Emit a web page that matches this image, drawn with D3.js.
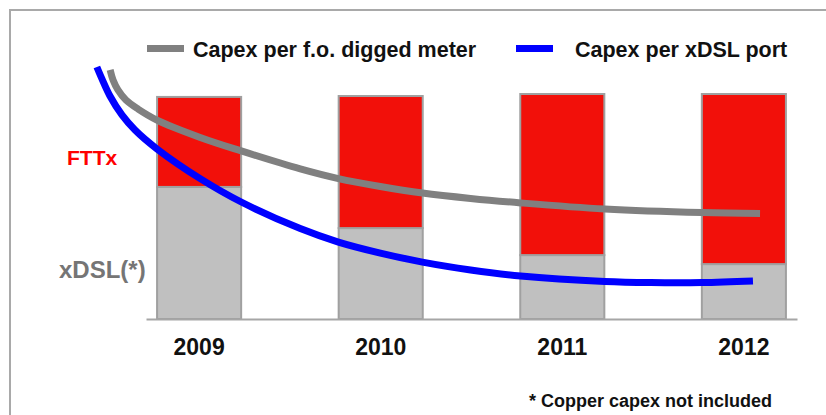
<!DOCTYPE html>
<html>
<head>
<meta charset="utf-8">
<script src="https://cdn.jsdelivr.net/npm/d3@7"></script>
<style>
  html, body { margin: 0; padding: 0; background: #fff; }
  svg { display: block; font-family: "Liberation Sans", Arial, sans-serif; }
</style>
</head>
<body>
<svg id="chart" width="826" height="415"></svg>
<script>
// Capex split per year (share of total, %)
const years = ["2009", "2010", "2011", "2012"];
const xdslShare = [58.7, 40.4, 28.4, 24.4];
const fttxShare = [40.0, 58.7, 71.6, 75.6];

// Trend curves (index on the same vertical scale), sampled along the year axis
const meterYears  = [2008.51, 2008.526, 2008.553, 2008.597, 2008.664, 2008.768, 2009.006, 2009.232, 2009.557, 2009.767, 2009.998, 2010.23, 2010.495, 2010.771, 2011.234, 2011.769, 2012.089];
const meterValues = [110.7, 106.2, 101.8, 97.3, 93.3, 88.4, 80.7, 74.7, 66.7, 62.4, 58.9, 56.0, 53.6, 51.6, 48.9, 47.3, 46.9];
const portYears   = [2008.437, 2008.465, 2008.509, 2008.575, 2008.647, 2008.768, 2009.006, 2009.232, 2009.557, 2009.767, 2009.998, 2010.23, 2010.495, 2010.771, 2011.234, 2011.488, 2011.769, 2012.05];
const portValues  = [112.0, 106.7, 99.1, 90.7, 84.0, 75.6, 62.4, 52.0, 40.2, 34.2, 29.3, 25.3, 21.8, 19.1, 16.7, 16.2, 16.2, 16.9];

const legendLabels = ["Capex per f.o. digged meter", "Capex per xDSL port"];
const footnote = "* Copper capex not included";

const svg = d3.select("#chart");

// frame around the slide area
svg.append("rect")
  .attr("x", 10).attr("y", 10)
  .attr("width", 830).attr("height", 420)
  .attr("fill", "none").attr("stroke", "#a9a9a9").attr("stroke-width", 2);

const x = d3.scaleBand()
  .domain(years)
  .range([146, 797])
  .paddingInner(0.537)
  .paddingOuter(0.061);

const y = d3.scaleLinear().domain([0, 100]).range([319, 94]);

// continuous year scale aligned with the band centres
const xYear = d3.scaleLinear()
  .domain([2009, 2012])
  .range([x("2009") + x.bandwidth() / 2, x("2012") + x.bandwidth() / 2]);

const rows = years.map((yr, i) => ({ year: yr, xdsl: xdslShare[i], fttx: fttxShare[i] }));
const stacked = d3.stack().keys(["xdsl", "fttx"])(rows);
const fills = { xdsl: "#c0c0c0", fttx: "#f2100a" };

svg.append("g")
  .selectAll("g")
  .data(stacked)
  .join("g")
  .attr("fill", d => fills[d.key])
  .selectAll("rect")
  .data(d => d)
  .join("rect")
  .attr("x", d => x(d.data.year))
  .attr("width", x.bandwidth())
  .attr("y", d => y(d[1]))
  .attr("height", d => y(d[0]) - y(d[1]))
  .attr("stroke", "#a0a0a0")
  .attr("stroke-width", 2);

// category axis
const axis = svg.append("g")
  .attr("transform", `translate(0,${y(0)})`)
  .call(d3.axisBottom(x).tickSize(0).tickSizeOuter(0).tickPadding(20));
axis.select(".domain").attr("stroke", "#a6a6a6").attr("stroke-width", 2);
axis.selectAll("text")
  .attr("font-family", "'Liberation Sans', Arial, sans-serif")
  .attr("font-size", 23)
  .attr("font-weight", "bold")
  .attr("fill", "#111");

// trend curves
const line = d3.line()
  .x(d => xYear(d[0]))
  .y(d => y(d[1]))
  .curve(d3.curveCatmullRom.alpha(0.5));

svg.append("path")
  .datum(d3.zip(meterYears, meterValues))
  .attr("d", line)
  .attr("fill", "none")
  .attr("stroke", "#808080")
  .attr("stroke-width", 7);

svg.append("path")
  .datum(d3.zip(portYears, portValues))
  .attr("d", line)
  .attr("fill", "none")
  .attr("stroke", "#0000ff")
  .attr("stroke-width", 7);

// legend
const legend = svg.append("g").attr("font-size", 21.5).attr("font-weight", "bold").attr("fill", "#111");
const legendItems = [
  { label: legendLabels[0], color: "#808080", x0: 147, tx: 193 },
  { label: legendLabels[1], color: "#0000ff", x0: 516, tx: 575 }
];
legendItems.forEach(it => {
  legend.append("line")
    .attr("x1", it.x0).attr("x2", it.x0 + 37)
    .attr("y1", 48.5).attr("y2", 48.5)
    .attr("stroke", it.color).attr("stroke-width", 7);
  legend.append("text").attr("x", it.tx).attr("y", 57).text(it.label);
});

// series labels
svg.append("text")
  .attr("x", 67).attr("y", 165)
  .attr("font-size", 21).attr("font-weight", "bold").attr("fill", "#ff0000")
  .text("FTTx");
svg.append("text")
  .attr("x", 59).attr("y", 278)
  .attr("font-size", 24).attr("font-weight", "bold").attr("fill", "#757575")
  .text("xDSL(*)");

// footnote
svg.append("text")
  .attr("x", 529).attr("y", 407)
  .attr("font-size", 18).attr("font-weight", "bold").attr("fill", "#111")
  .text(footnote);
</script>
</body>
</html>
